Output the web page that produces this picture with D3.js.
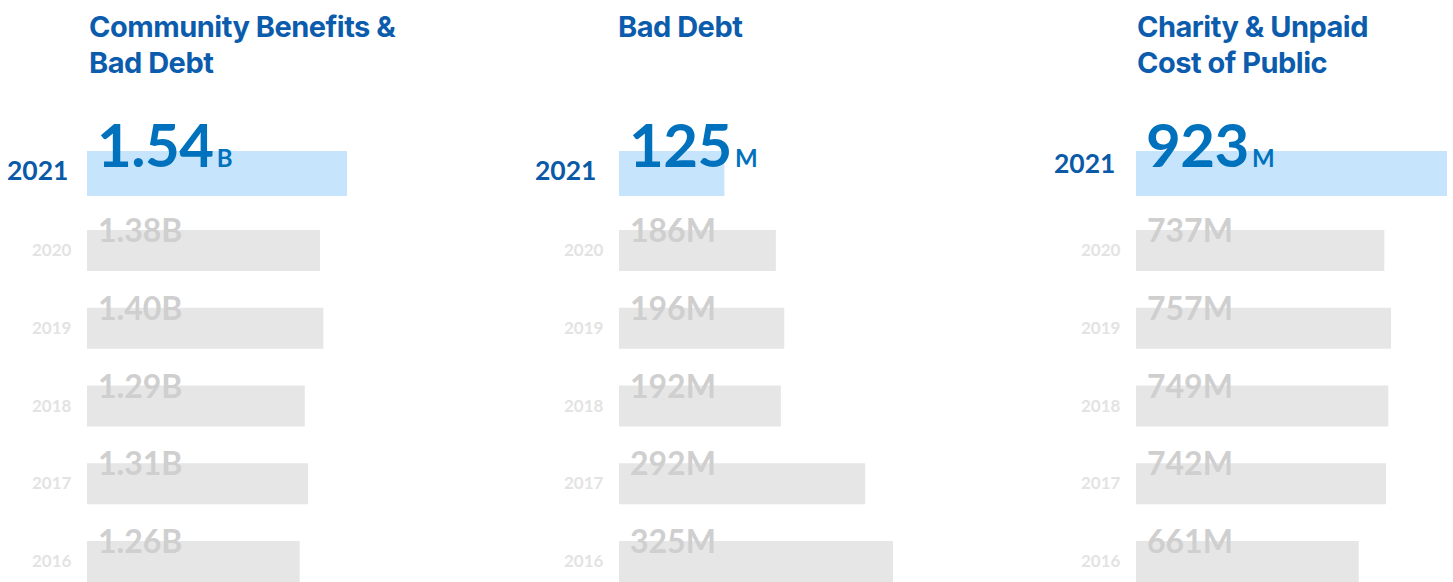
<!DOCTYPE html>
<html><head><meta charset="utf-8">
<script src="https://cdn.jsdelivr.net/npm/d3@7/dist/d3.min.js"></script>
<style>html,body{margin:0;padding:0;background:#fff;}svg{display:block;}</style>
</head><body>
<svg id="c" width="1453" height="582"></svg>
<script>
// ---- data ----
const years = [2021, 2020, 2019, 2018, 2017, 2016];
const panelTitles = [["Community Benefits &", "Bad Debt"], ["Bad Debt"], ["Charity & Unpaid", "Cost of Public"]];
const units = ["B", "M", "M"];
const communityBenefits = [1.54, 1.38, 1.40, 1.29, 1.31, 1.26];
const badDebt = [125, 186, 196, 192, 292, 325];
const charityUnpaid = [923, 737, 757, 749, 742, 661];
const seriesValues = [communityBenefits, badDebt, charityUnpaid];

// ---- layout ----
const barX = [87, 619, 1136];
const titleDx = [2, -1, 1];
const maxW = [260, 274, 311];
const bigYearOffset = [-80, -84, -82];
const bigYearBase = [180, 180, 173];
const numFont = "Lato, 'Open Sans', sans-serif";
const titleFont = "Inter, 'Noto Sans', sans-serif";

const svg = d3.select("#c");
const yOld = d3.scalePoint().domain(years.slice(1)).range([230, 541]);
const fmt = [d3.format(".2f"), d3.format("d"), d3.format("d")];

seriesValues.forEach((vals, p) => {
  const g = svg.append("g");
  const maxV = d3.max(vals);
  const x = d3.scaleLinear().domain([0, maxV]).range([0, maxW[p]]);
  const x0 = barX[p];

  // title
  const t = g.append("text").attr("y", 37)
    .attr("font-family", titleFont).attr("font-weight", 700).attr("font-size", 29)
    .attr("letter-spacing", -0.5).attr("fill", "#0b5cad");
  panelTitles[p].forEach((line, i) => {
    t.append("tspan").attr("x", x0 + titleDx[p]).attr("y", 37 + i * 36).text(line);
  });

  const rows = years.map((yr, i) => ({ yr, v: vals[i], i }));

  // bars
  g.selectAll("rect.bar").data(rows).join("rect")
    .attr("x", x0)
    .attr("y", d => d.i === 0 ? 151 : yOld(d.yr))
    .attr("width", d => x(d.v))
    .attr("height", d => d.i === 0 ? 45 : 41)
    .attr("fill", d => d.i === 0 ? "#c6e5fd" : "#e6e6e6");

  // current year label
  g.append("text").attr("x", x0 + bigYearOffset[p]).attr("y", bigYearBase[p])
    .attr("font-family", numFont).attr("font-weight", 700).attr("font-size", 26.5)
    .attr("fill", "#0a5aa8").text(years[0]);

  // current value
  const cv = g.append("text").attr("x", x0 + 10).attr("y", 167)
    .attr("font-family", numFont).attr("font-weight", 700).attr("fill", "#0071bc");
  cv.append("tspan").attr("font-size", 60).attr("letter-spacing", -0.5).text(fmt[p](vals[0]));
  cv.append("tspan").attr("font-size", 24).attr("dx", 3).text(units[p]);

  // older rows
  const old = rows.slice(1);
  g.selectAll("text.yr").data(old).join("text").attr("class", "yr")
    .attr("x", x0 - 55).attr("y", d => yOld(d.yr) + 26)
    .attr("font-family", numFont).attr("font-weight", 700).attr("font-size", 17)
    .attr("fill", "#e3e3e3").text(d => d.yr);

  g.selectAll("text.val").data(old).join("text").attr("class", "val")
    .attr("x", x0 + 11).attr("y", d => yOld(d.yr) + 12)
    .attr("font-family", numFont).attr("font-weight", 700).attr("font-size", 32)
    .attr("fill", "#cfcfcf").text(d => fmt[p](d.v) + units[p]);
});
</script>
</body></html>
